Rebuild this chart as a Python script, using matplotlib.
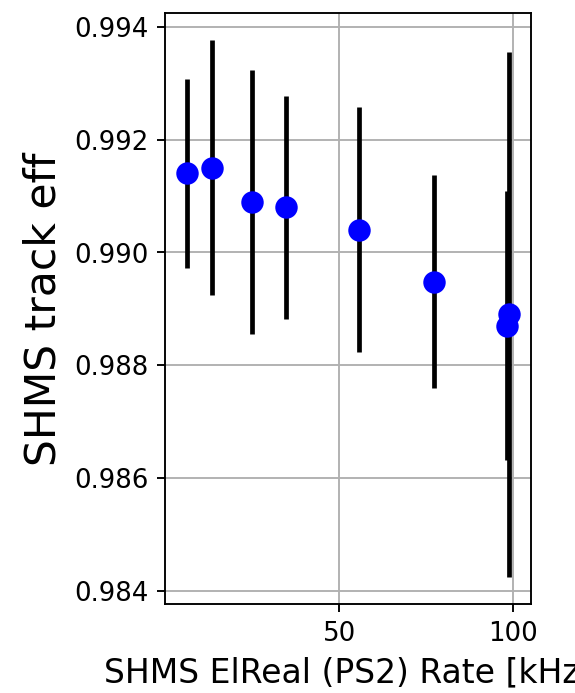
import matplotlib
matplotlib.use("Agg")
import matplotlib.pyplot as plt

# SHMS ElReal (PS2) rate [kHz] and tracking efficiency
rate = [6.3, 13.5, 25.0, 34.8, 55.8, 77.2, 98.8, 98.2]
eff = [0.99140, 0.99150, 0.99090, 0.99080, 0.99040, 0.98948, 0.98890, 0.98870]
eff_err = [0.00168, 0.00226, 0.00234, 0.00198, 0.00217, 0.00189, 0.00465, 0.00238]

dpi = 170
fig = plt.figure(figsize=(575.2 / dpi, 693.2 / dpi), dpi=dpi)
ax = fig.add_axes([0.287, 0.1284, 0.636, 0.8524])

ax.errorbar(rate, eff, yerr=eff_err, fmt='o', color='blue', ecolor='black',
            elinewidth=2, markersize=8.5, capsize=0)

ax.set_xlim(0.1, 105)
ax.set_ylim(0.98377, 0.99424)
ax.set_xticks([50, 100])
ax.set_yticks([0.984, 0.986, 0.988, 0.990, 0.992, 0.994])
ax.tick_params(labelsize=11)
ax.grid(True)

ax.set_xlabel('SHMS ElReal (PS2) Rate [kHz]', fontsize=14)
ax.set_ylabel('SHMS track eff', fontsize=18)

fig.savefig('out.png', dpi=dpi)
